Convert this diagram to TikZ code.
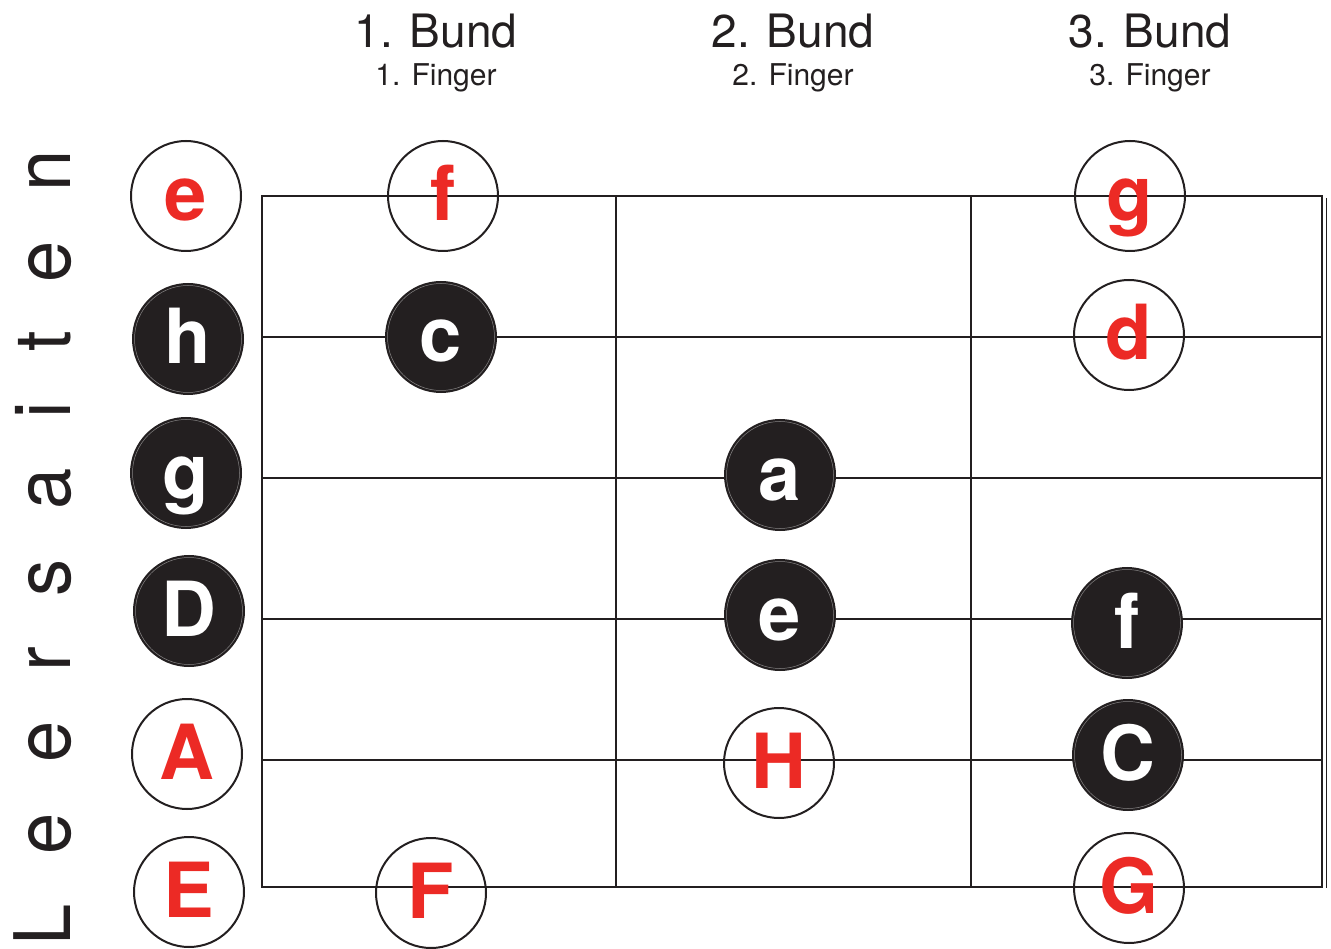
\documentclass[tikz,border=0pt]{standalone}
\usepackage{fontspec}
\setmainfont{TeX Gyre Heros}
\definecolor{ink}{HTML}{231F20}
\definecolor{notered}{HTML}{EC2A25}
\tikzset{
  note/.style={circle, minimum size=110pt, inner sep=0pt, line width=2pt,
    font=\bfseries\fontsize{76}{76}\selectfont, text height=50pt, text depth=0pt},
  opennote/.style={note, draw=ink, text=notered},
  fillnote/.style={note, fill=ink, draw=ink, text=white},
  ring/.style={draw=ink!55!white, line width=0.5pt},
  frameline/.style={draw=ink, line width=2.4pt},
  stringline/.style={draw=ink, line width=2pt},
  fretline/.style={draw=ink, line width=1.2pt},
  bund/.style={anchor=base, inner sep=0pt, text=ink, font=\fontsize{46}{46}\selectfont},
  finger/.style={anchor=base, inner sep=0pt, text=ink, font=\fontsize{30}{30}\selectfont}
}
\begin{document}
\begin{tikzpicture}[x=1pt,y=-1pt]
\useasboundingbox (0,0) rectangle (1331,949);
% headings
\node[bund] (b1) at (436,48) {1. Bund};
\node[bund] (b2) at (793,48) {2. Bund};
\node[bund] (b3) at (1150,48) {3. Bund};
\node[finger] (f1) at (436,86) {1. Finger};
\node[finger] (f2) at (793,86) {2. Finger};
\node[finger] (f3) at (1150,86) {3. Finger};
% side label
\node[rotate=90, xscale=0.95, anchor=base west, inner sep=0pt, text=ink,
  font=\fontsize{78}{78}\selectfont\addfontfeature{LetterSpace=67.5}] (side) at (70,945.5) {Leersaiten};
% grid
\foreach \y in {337,478,619,760} \draw[stringline] (262,\y) -- (1322,\y);
\draw[fretline] (616,196) -- (616,887);
\draw[fretline] (971,196) -- (971,887);
\draw[frameline] (262,196) rectangle (1322,887);
\draw[ink, line width=1.5pt] (1326.5,198) -- (1326.5,888);
% open notes
\node[opennote] (n1) at (186,196) {e};
\node[opennote] (n2) at (443,196) {f};
\node[opennote] (n3) at (1130,196) {g};
\node[opennote] (n4) at (1129,335) {d};
\node[opennote] (n5) at (187,754) {A};
\node[opennote] (n6) at (779,763) {H};
\node[opennote] (n7) at (189,892) {E};
\node[opennote] (n8) at (431,893) {F};
\node[opennote] (n9) at (1129,888) {G};
% filled notes
\node[fillnote] (m1) at (188,339) {h};
\node[fillnote] (m2) at (441,337) {c};
\node[fillnote] (m3) at (186,473) {g};
\node[fillnote] (m4) at (780,475) {a};
\node[fillnote] (m5) at (780,615) {e};
\node[fillnote] (m6) at (189,611) {D};
\node[fillnote] (m7) at (1127,623) {f};
\node[fillnote] (m8) at (1128,755) {C};
\foreach \m in {m1,m2,m3,m4,m5,m6,m7,m8} \draw[ring] (\m.center) circle (53.5pt);
\end{tikzpicture}
\end{document}
